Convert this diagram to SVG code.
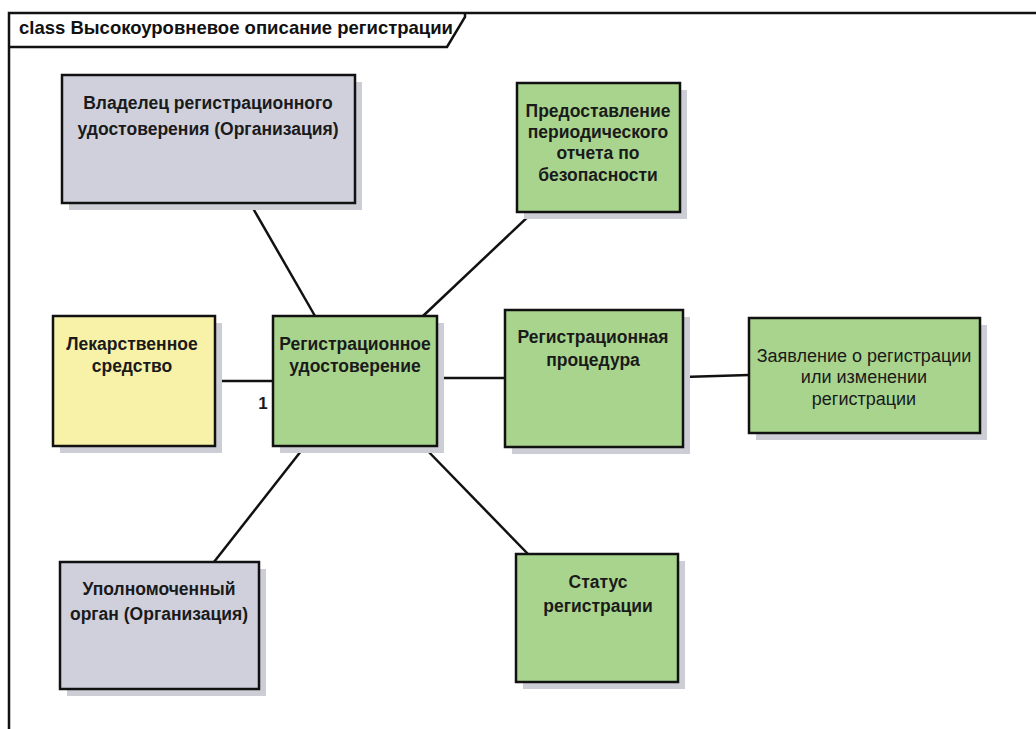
<svg xmlns="http://www.w3.org/2000/svg" width="1036" height="729" viewBox="0 0 1036 729">
<style>
.box{stroke:#111;stroke-width:2.5}
.shadow{fill:#cdcdd5}
.grey{fill:#cfd0dc}
.green{fill:#a9d48e}
.yellow{fill:#f8f1a8}
.t{font-family:"Liberation Sans",Arial,sans-serif;font-size:17.5px;font-weight:bold;fill:#1a1a1a;text-anchor:middle}
.tn{font-weight:normal;font-size:18px}
.c{stroke:#111;stroke-width:2.5;fill:none}
</style>
<rect x="0" y="0" width="1036" height="729" fill="#ffffff"/>
<g id="frame">
<path class="c" d="M9,729 L9,13 L1036,13"/>
<path class="c" d="M9,47 L447,47 L465,17 L465,13"/>
<text x="19" y="34" style="font-family:'Liberation Sans',Arial,sans-serif;font-size:18.5px;font-weight:bold;fill:#111">class Высокоуровневое описание регистрации</text>
</g>
<g id="connectors">
<line class="c" x1="250" y1="203" x2="315" y2="316"/>
<line class="c" x1="533" y1="212" x2="423" y2="316"/>
<line class="c" x1="215" y1="381" x2="273" y2="381"/>
<line class="c" x1="437" y1="378" x2="505" y2="378"/>
<line class="c" x1="683" y1="377" x2="749" y2="375"/>
<line class="c" x1="305" y1="446" x2="214" y2="562"/>
<line class="c" x1="423" y1="446" x2="528" y2="554"/>
<text x="263" y="409" style="font-family:'Liberation Sans',Arial,sans-serif;font-size:17px;font-weight:bold;fill:#1a1a1a;text-anchor:middle">1</text>
</g>
<g id="owner">
<rect class="shadow" x="69" y="82" width="293" height="128"/>
<rect class="box grey" x="62" y="75" width="293" height="128"/>
<text class="t" x="208" y="109">Владелец регистрационного</text>
<text class="t" x="208" y="135">удостоверения (Организация)</text>
</g>
<g id="psur">
<rect class="shadow" x="524" y="90" width="163" height="129"/>
<rect class="box green" x="517" y="83" width="163" height="129"/>
<text class="t" x="598" y="117">Предоставление</text>
<text class="t" x="598" y="138">периодического</text>
<text class="t" x="598" y="159">отчета по</text>
<text class="t" x="598" y="181">безопасности</text>
</g>
<g id="drug">
<rect class="shadow" x="60" y="323" width="162" height="130"/>
<rect class="box yellow" x="53" y="316" width="162" height="130"/>
<text class="t" x="132" y="350">Лекарственное</text>
<text class="t" x="132" y="372">средство</text>
</g>
<g id="certificate">
<rect class="shadow" x="280" y="323" width="164" height="130"/>
<rect class="box green" x="273" y="316" width="164" height="130"/>
<text class="t" x="355" y="350">Регистрационное</text>
<text class="t" x="355" y="372">удостоверение</text>
</g>
<g id="procedure">
<rect class="shadow" x="512" y="317" width="178" height="137"/>
<rect class="box green" x="505" y="310" width="178" height="137"/>
<text class="t" x="593" y="343">Регистрационная</text>
<text class="t" x="593" y="366">процедура</text>
</g>
<g id="application">
<rect class="shadow" x="756" y="325" width="231" height="115"/>
<rect class="box green" x="749" y="318" width="231" height="115"/>
<text class="t tn" x="864" y="362">Заявление о регистрации</text>
<text class="t tn" x="864" y="383">или изменении</text>
<text class="t tn" x="864" y="405">регистрации</text>
</g>
<g id="authority">
<rect class="shadow" x="67" y="569" width="199" height="127"/>
<rect class="box grey" x="60" y="562" width="199" height="127"/>
<text class="t" x="159" y="595">Уполномоченный</text>
<text class="t" x="159" y="620">орган (Организация)</text>
</g>
<g id="status">
<rect class="shadow" x="523" y="561" width="162" height="128"/>
<rect class="box green" x="516" y="554" width="162" height="128"/>
<text class="t" x="598" y="588">Статус</text>
<text class="t" x="598" y="612">регистрации</text>
</g>
</svg>
